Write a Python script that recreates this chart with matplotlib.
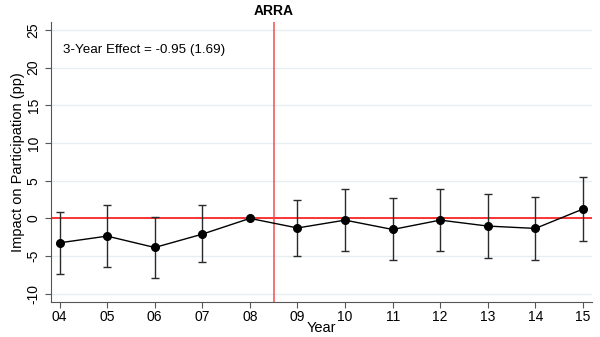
import matplotlib.pyplot as plt
import numpy as np

plt.rcParams['font.family'] = ['Liberation Sans', 'DejaVu Sans']

# Event-study estimates
years = [4, 5, 6, 7, 8, 9, 10, 11, 12, 13, 14, 15]
year_labels = ['04', '05', '06', '07', '08', '09', '10', '11', '12', '13', '14', '15']
effect = [-3.24, -2.35, -3.86, -2.09, 0.0, -1.27, -0.23, -1.47, -0.23, -1.02, -1.33, 1.24]
ci_high = [0.88, 1.77, 0.21, 1.73, 0.0, 2.5, 3.9, 2.66, 3.9, 3.18, 2.79, 5.45]
ci_low = [-7.37, -6.43, -7.9, -5.85, 0.0, -5.02, -4.3, -5.55, -4.35, -5.24, -5.5, -2.98]
y_ticks = [-10, -5, 0, 5, 10, 15, 20, 25]

fig = plt.figure(figsize=(6, 3.37), dpi=100)
ax = fig.add_axes([51 / 600, 1 - 301.7 / 337, (592 - 51) / 600, (301.7 - 22) / 337])

effect = np.array(effect)
yerr = [effect - np.array(ci_low), np.array(ci_high) - effect]

ax.axhline(0, color='red', lw=1.1, zorder=2)
ax.axvline(8.5, color='#f05050', lw=1.1, zorder=2)

ax.errorbar(years, effect, yerr=yerr, fmt='o-', color='black', ecolor='#2a2a2a',
            elinewidth=1.0, capsize=3, capthick=1.0, markersize=5.5, lw=1.0, zorder=3)

ax.set_xlim(3.82, 15.19)
ax.set_ylim(-11.05, 26.05)
ax.set_xticks(years)
ax.set_xticklabels(year_labels)
ax.set_yticks(y_ticks)
ax.set_yticklabels([str(t) for t in y_ticks], rotation=90, va='center')
ax.yaxis.grid(True, color='#e6eef1', lw=1.0)
ax.set_axisbelow(True)

for side in ['top', 'right']:
    ax.spines[side].set_visible(False)
for side in ['left', 'bottom']:
    ax.spines[side].set_color('#555555')
ax.tick_params(axis='both', labelsize=10, color='#555555', length=4)
ax.tick_params(axis='x', pad=2)

ax.set_xlabel('Year', fontsize=10.5, labelpad=-2)
ax.set_ylabel('Impact on Participation (pp)', fontsize=10.5, labelpad=1)

ax.text(4.07, 22.3, '3-Year Effect = -0.95 (1.69)', fontsize=9.6, va='center', ha='left')
ax.text(8.5, 26.6, 'ARRA', fontsize=10, fontweight='bold', ha='center', va='bottom')

fig.savefig('out.png', dpi=100)
